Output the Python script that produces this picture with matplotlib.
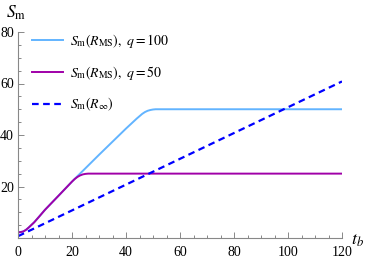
"""Sm versus tb: two saturating curves and a linear reference"""

import matplotlib.pyplot as plt

plt.rcParams['font.family'] = ['Liberation Serif', 'DejaVu Serif']
plt.rcParams['mathtext.fontset'] = 'stix'

# q = 100 curve
t_q100 = [0, 1, 2, 3, 4, 5, 6, 8, 10, 15, 20, 22, 25, 30, 35, 40, 44, 46, 47, 48, 49, 50, 51, 53, 120]
s_q100 = [2.2, 2.3, 2.55, 3.2, 4.1, 5.1, 6.1, 8.5, 10.95, 16.4, 21.9, 24.0, 27.1, 32.3,
          37.4, 42.5, 46.4, 48.2, 48.9, 49.4, 49.7, 49.9, 50.0, 50.0, 50.0]
# q = 50 curve
t_q50 = [0, 1, 2, 3, 4, 5, 6, 8, 10, 15, 20, 21, 22, 23, 24, 25, 26, 28, 30, 120]
s_q50 = [2.2, 2.3, 2.55, 3.2, 4.1, 5.1, 6.1, 8.5, 10.95, 16.4, 21.9, 22.9, 23.7, 24.3,
         24.7, 24.9, 25.0, 25.0, 25.0, 25.0]
# R_inf line
t_inf = [0, 120]
s_inf = [0.7, 60.8]

fig = plt.figure(figsize=(3.74, 2.6), dpi=100)
ax = fig.add_axes([18 / 374, 22 / 260, 324 / 374, 206 / 260])

ax.plot(t_q100, s_q100, color='#62b4ff', linewidth=1.4,
        label=r'$S_{\mathrm{m}}(R_{\mathrm{MS}}),\ q=100$')
ax.plot(t_q50, s_q50, color='#a000a8', linewidth=1.4,
        label=r'$S_{\mathrm{m}}(R_{\mathrm{MS}}),\ q=50$')
ax.plot(t_inf, s_inf, color='#0000ff', linewidth=1.6, linestyle=(0, (3, 2)),
        label=r'$S_{\mathrm{m}}(R_{\infty})$')

ax.set_xlim(0, 120)
ax.set_ylim(0, 80)
ax.set_xticks(range(0, 121, 20))
ax.set_xticks(range(0, 121, 5), minor=True)
ax.set_yticks([20, 40, 60, 80])
ax.set_yticks(range(0, 81, 5), minor=True)

for s in ['top', 'right']:
    ax.spines[s].set_visible(False)
for s in ['left', 'bottom']:
    ax.spines[s].set_color('#888888')
    ax.spines[s].set_linewidth(0.8)
ax.tick_params(which='both', direction='in', color='#888888', width=0.7)
ax.tick_params(which='major', length=4, labelsize=10)
ax.tick_params(axis='x', which='major', pad=6)
ax.tick_params(axis='y', which='major', pad=3)
ax.tick_params(which='minor', length=2)
ax.patch.set_visible(False)

fig.text(6 / 374, 1 - 13 / 260, r'$S_{\mathrm{m}}$', fontsize=12.5, va='center', ha='left')
fig.text(351 / 374, 1 - 240 / 260, r'$t_b$', fontsize=13, va='center', ha='left')

ax.legend(loc='upper left', bbox_to_anchor=(32 / 374, 1 - 32 / 260),
          bbox_transform=fig.transFigure, frameon=False, fontsize=10,
          handlelength=2.2, handletextpad=0.5, labelspacing=1.0,
          borderpad=0, borderaxespad=0)

plt.savefig('out.png', dpi=100)
